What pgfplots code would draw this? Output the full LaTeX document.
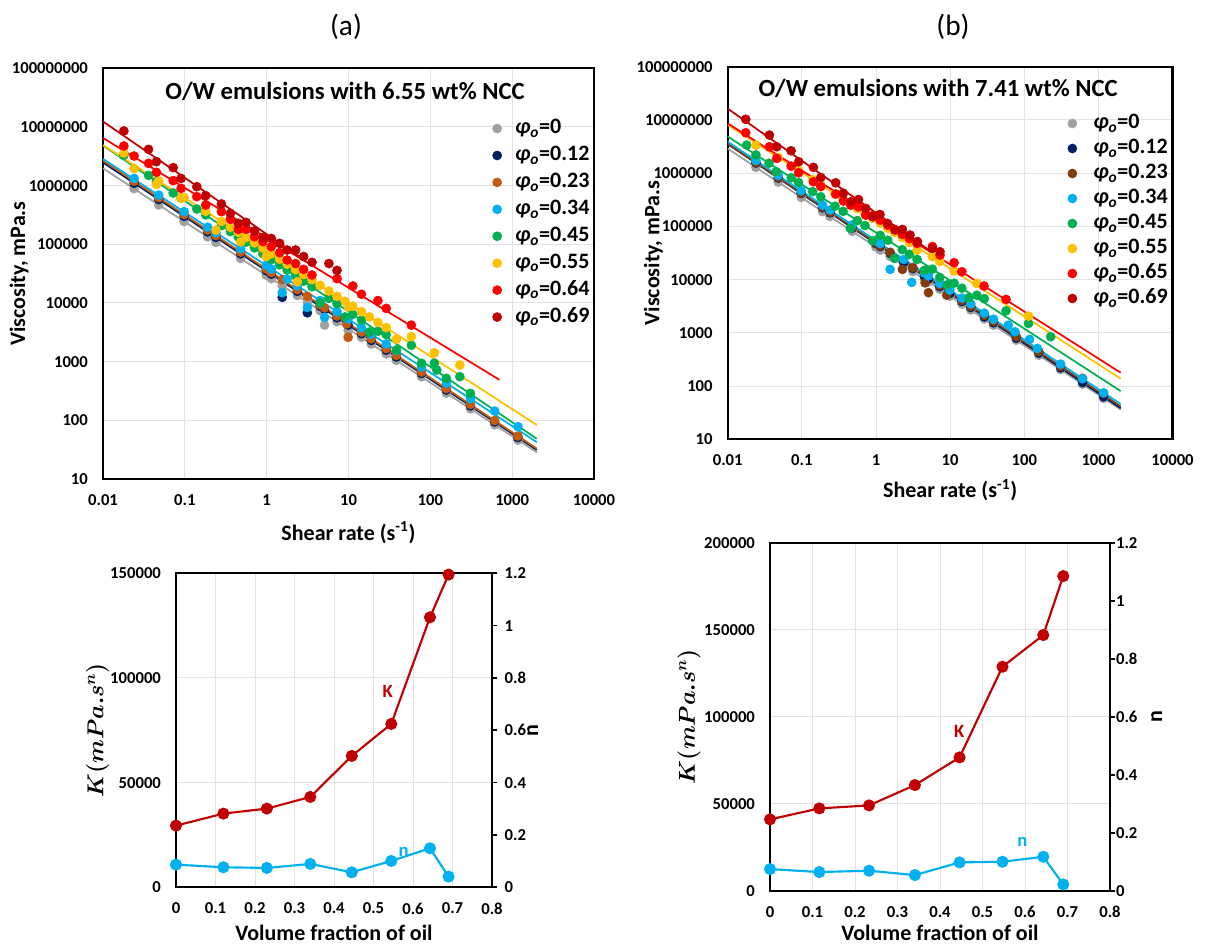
\documentclass[border=0pt]{standalone}
\usepackage{fontspec}
\setmainfont{Carlito}
\usepackage{bm}
\usepackage{pgfplots}
\pgfplotsset{compat=1.18}

\definecolor{cgrey}{HTML}{A0A0A0}
\definecolor{cnavy}{HTML}{002060}
\definecolor{corange}{HTML}{C55A11}
\definecolor{cbrown}{HTML}{843C0C}
\definecolor{cblue}{HTML}{00B0F0}
\definecolor{cgreen}{HTML}{00B050}
\definecolor{cyellow}{HTML}{FFC000}
\definecolor{cred}{HTML}{FF0000}
\definecolor{cdred}{HTML}{C00000}
\definecolor{cgrid}{HTML}{E2E2E2}

\newcommand{\tickfont}{\fontsize{12.5}{14}\selectfont\bfseries}
\newcommand{\labfont}{\fontsize{16.5}{19}\selectfont\bfseries}
\newcommand{\phio}{{\itshape φ\textsubscript{o}}}

\begin{document}
\begin{tikzpicture}
\path[use as bounding box] (0,0) rectangle (903.75pt,710.25pt);
\node[font=\fontsize{22}{26}\selectfont] at (259.5pt,690pt) {(a)};
\node[font=\fontsize{22}{26}\selectfont] at (714.75pt,690pt) {(b)};

% ---------------- (a) top ----------------
\begin{axis}[at={(77.25pt,659pt)}, anchor=north west,
  scale only axis, width=368.25pt, height=308pt,
  xmode=log, ymode=log,
  xmin=0.01, xmax=10000, ymin=10, ymax=1e8,
  xtick={0.01,0.1,1,10,100,1000,10000},
  xticklabels={0.01,0.1,1,10,100,1000,10000},
  ytick={10,100,1000,10000,100000,1000000,10000000,100000000},
  yticklabels={10,100,1000,10000,100000,1000000,10000000,100000000},
  minor tick style={draw=none},
  grid=major, major grid style={draw=cgrid, line width=0.75pt},
  axis line style={line width=1.6pt, black},
  tick style={draw=none}, major tick length=0pt,
  ticklabel style={font=\tickfont},
  xticklabel style={yshift=-8pt},
  yticklabel style={xshift=-7.8pt},
  xlabel={Shear rate (s\textsuperscript{-1})}, ylabel={Viscosity, mPa.s},
  xlabel style={at={(axis description cs:0.5,-0.131)}, anchor=center, font=\labfont},
  ylabel style={at={(axis description cs:-0.171,0.5)}, anchor=center, font=\labfont},
  legend cell align=left,
  legend style={at={(axis description cs:0.793,0.880)}, anchor=north west,
    draw=none, fill=none, inner sep=0pt, row sep=4.2pt, column sep=10pt,
    font=\fontsize{16.5}{19}\selectfont\bfseries,
    nodes={inner sep=0pt, text height=12pt, text depth=4pt}}]
\addplot[only marks, mark=*, mark size=3.4pt, color=cgrey] coordinates {(0.024,8.9e5)(0.048,4.7e5)(0.098,2.45e5)(0.19,1.34e5)(0.24,1.08e5)(0.48,5.75e4)(0.99,2.97e4)(1.14,2.6e4)(1.55,1.98e4)(2.37,1.34e4)(3.14,1.04e4)(4.5,7.4e3)(5.1,4.2e3)(7.24,4.8e3)(9.9,3.4e3)(14.4,2.6e3)(19,2.0e3)(28.9,1.36e3)(38.5,1.05e3)(78,552)(157,291)(309,157)(611,84)(1175,46)};
\addlegendentry{\phio=0}
\addplot[only marks, mark=*, mark size=3.4pt, color=cnavy] coordinates {(0.024,1.1e6)(0.048,5.8e5)(0.098,3.0e5)(0.19,1.63e5)(0.24,1.31e5)(0.48,6.9e4)(0.99,3.55e4)(1.14,3.1e4)(1.55,1.25e4)(2.37,1.58e4)(3.14,6.8e3)(4.5,8.8e3)(5.1,7.8e3)(7.24,5.6e3)(9.9,4.2e3)(14.4,3.0e3)(19,2.3e3)(28.9,1.57e3)(38.5,1.2e3)(78,628)(157,329)(309,176)(611,94)(1175,51)};
\addlegendentry{\phio=0.12}
\addplot[only marks, mark=*, mark size=3.4pt, color=corange] coordinates {(0.024,1.19e6)(0.048,6.25e5)(0.098,3.23e5)(0.19,1.75e5)(0.24,1.41e5)(0.48,7.4e4)(0.99,3.8e4)(1.14,3.3e4)(1.55,2.5e4)(2.37,1.69e4)(3.14,1.3e4)(4.5,9.3e3)(5.1,8.3e3)(7.24,6.0e3)(9.5,4.4e3)(9.9,2.6e3)(14.4,3.2e3)(19,2.46e3)(28.9,1.67e3)(38.5,1.28e3)(78,665)(157,348)(309,186)(611,99)(1175,54)};
\addlegendentry{\phio=0.23}
\addplot[only marks, mark=*, mark size=3.4pt, color=cblue] coordinates {(0.024,1.33e6)(0.048,6.9e5)(0.098,3.6e5)(0.19,1.96e5)(0.24,1.58e5)(0.48,8.4e4)(0.99,4.4e4)(1.14,3.8e4)(1.55,1.5e4)(1.78,2.55e4)(2.37,1.96e4)(3.14,8.4e3)(4.5,1.1e4)(5.1,5.7e3)(7.24,7.1e3)(9.9,5.35e3)(14.4,3.8e3)(19,2.95e3)(28.9,2.0e3)(38.5,1.55e3)(78,815)(157,430)(309,233)(611,144)(1175,78)};
\addlegendentry{\phio=0.34}
\addplot[only marks, mark=*, mark size=3.4pt, color=cgreen] coordinates {(0.018,3.3e6)(0.036,1.5e6)(0.045,1.17e6)(0.072,7.5e5)(0.09,6.1e5)(0.14,4.0e5)(0.18,3.17e5)(0.28,2.08e5)(0.36,1.65e5)(0.45,1.33e5)(0.56,1.09e5)(0.71,8.7e4)(0.9,6.9e4)(1.14,5.5e4)(1.44,4.46e4)(1.78,3.65e4)(2.26,2.91e4)(2.83,2.36e4)(3.58,1.89e4)(4.5,1.0e4)(5.76,1.2e4)(7.24,9.7e3)(9.1,5.8e3)(11.3,6.4e3)(14.4,5.1e3)(18,3.2e3)(22.9,3.3e3)(28.9,2.9e3)(38.5,1.58e3)(58.6,1.9e3)(78,940)(112,940)(120,720)(157,520)(229,555)(309,288)};
\addlegendentry{\phio=0.45}
\addplot[only marks, mark=*, mark size=3.4pt, color=cyellow] coordinates {(0.018,3.6e6)(0.024,1.95e6)(0.045,1.05e6)(0.048,1.2e6)(0.09,6.1e5)(0.098,6.3e5)(0.18,3.66e5)(0.24,1.75e5)(0.28,2.45e5)(0.36,1.96e5)(0.45,1.6e5)(0.48,1.1e5)(0.56,1.31e5)(0.71,1.06e5)(0.9,8.6e4)(0.99,6.2e4)(1.14,6.9e4)(1.44,5.6e4)(1.78,4.6e4)(2.26,3.7e4)(2.37,2.3e4)(2.83,3.05e4)(3.58,2.5e4)(4.5,2.0e4)(5.76,1.6e4)(7.24,1.3e4)(9.1,1.07e4)(9.9,8.6e3)(11.3,8.8e3)(14.4,7.1e3)(18,5.8e3)(22.9,4.66e3)(28.9,3.8e3)(38.5,2.4e3)(58.6,2.67e3)(112,1.42e3)(229,877)};
\addlegendentry{\phio=0.55}
\addplot[only marks, mark=*, mark size=3.4pt, color=cred] coordinates {(0.018,4.74e6)(0.024,3.2e6)(0.036,2.4e6)(0.045,1.69e6)(0.072,1.22e6)(0.09,9.0e5)(0.14,6.5e5)(0.18,4.68e5)(0.28,3.6e5)(0.36,2.67e5)(0.45,1.8e5)(0.56,1.8e5)(0.71,1.35e5)(0.9,1.11e5)(1.14,9.1e4)(1.44,7.2e4)(1.78,5.4e4)(2.26,4.7e4)(2.83,3.75e4)(3.58,3.0e4)(7.24,2.6e4)(11.3,1.95e4)(14.4,1.41e4)(22.9,1.10e4)(28.9,8.1e3)(58.6,4.2e3)};
\addlegendentry{\phio=0.64}
\addplot[only marks, mark=*, mark size=3.4pt, color=cdred] coordinates {(0.018,8.55e6)(0.036,4.16e6)(0.045,2.57e6)(0.072,2.03e6)(0.09,1.33e6)(0.14,9.6e5)(0.18,6.76e5)(0.28,4.88e5)(0.36,3.37e5)(0.45,2.28e5)(0.56,2.37e5)(0.71,1.69e5)(0.9,1.30e5)(1.14,1.26e5)(1.44,1.04e5)(1.78,8.0e4)(2.26,8.0e4)(2.83,6.2e4)(3.58,4.93e4)(5.76,4.7e4)(7.24,3.6e4)};
\addlegendentry{\phio=0.69}
\addplot[color=cgrey, line width=1.3pt, forget plot] coordinates {(0.01,1.97e6)(2000,28.5)};
\addplot[color=cnavy, line width=1.3pt, forget plot] coordinates {(0.01,2.48e6)(2000,31.3)};
\addplot[color=corange, line width=1.3pt, forget plot] coordinates {(0.01,2.67e6)(2000,33)};
\addplot[color=cblue, line width=1.3pt, forget plot] coordinates {(0.01,2.86e6)(2000,42.5)};
\addplot[color=cgreen, line width=1.3pt, forget plot] coordinates {(0.01,4.83e6)(2000,48.4)};
\addplot[color=cyellow, line width=1.3pt, forget plot] coordinates {(0.01,4.92e6)(2000,83.4)};
\addplot[color=cred, line width=1.3pt, forget plot] coordinates {(0.01,6.5e6)(700,490)};
\addplot[color=cdred, line width=1.3pt, forget plot] coordinates {(0.01,1.24e7)(3,5.2e4)};
\node[font=\fontsize{18.5}{22}\selectfont\bfseries] at (axis description cs:0.493,0.945) {O/W emulsions with 6.55 wt\% NCC};
\end{axis}

% ---------------- (b) top ----------------
\begin{axis}[at={(545.8pt,660.2pt)}, anchor=north west,
  scale only axis, width=333.6pt, height=279.5pt,
  xmode=log, ymode=log,
  xmin=0.01, xmax=10000, ymin=10, ymax=1e8,
  xtick={0.01,0.1,1,10,100,1000,10000},
  xticklabels={0.01,0.1,1,10,100,1000,10000},
  ytick={10,100,1000,10000,100000,1000000,10000000,100000000},
  yticklabels={10,100,1000,10000,100000,1000000,10000000,100000000},
  minor tick style={draw=none},
  grid=major, major grid style={draw=cgrid, line width=0.75pt},
  axis line style={line width=1.6pt, black},
  tick style={draw=none}, major tick length=0pt,
  ticklabel style={font=\tickfont},
  xticklabel style={yshift=-8pt},
  yticklabel style={xshift=-7.8pt},
  xlabel={Shear rate (s\textsuperscript{-1})}, ylabel={Viscosity, mPa.s},
  xlabel style={at={(axis description cs:0.5,-0.137)}, anchor=center, font=\labfont},
  ylabel style={at={(axis description cs:-0.167,0.5)}, anchor=center, font=\labfont},
  legend cell align=left,
  legend style={at={(axis description cs:0.764,0.877)}, anchor=north west,
    draw=none, fill=none, inner sep=0pt, row sep=2.75pt, column sep=12.3pt,
    font=\fontsize{16.5}{19}\selectfont\bfseries,
    nodes={inner sep=0pt, text height=12pt, text depth=4pt}}]
\addplot[only marks, mark=*, mark size=3.4pt, color=cgrey] coordinates {(0.024,1.29e6)(0.048,6.8e5)(0.098,3.52e5)(0.19,1.9e5)(0.24,1.54e5)(0.48,8.1e4)(0.99,4.14e4)(1.14,3.6e4)(1.55,2.74e4)(2.37,1.85e4)(3.14,1.42e4)(4.5,1.02e4)(5.1,9.1e3)(7.24,6.6e3)(9.9,4.9e3)(14.4,3.5e3)(19,2.7e3)(28.9,1.83e3)(38.5,1.4e3)(78,730)(157,382)(309,204)(611,109)(1175,59)};
\addlegendentry{\phio=0}
\addplot[only marks, mark=*, mark size=3.4pt, color=cnavy] coordinates {(0.024,1.55e6)(0.048,8.1e5)(0.098,4.16e5)(0.19,2.24e5)(0.24,1.8e5)(0.48,9.4e4)(0.99,4.78e4)(1.14,4.2e4)(1.55,3.14e4)(2.37,2.11e4)(3.14,1.62e4)(4.5,1.16e4)(5.1,1.03e4)(7.24,7.4e3)(9.9,5.5e3)(14.4,3.9e3)(19,3.0e3)(28.9,2.0e3)(38.5,1.55e3)(78,800)(157,417)(309,221)(611,117)(1175,63)};
\addlegendentry{\phio=0.12}
\addplot[only marks, mark=*, mark size=3.4pt, color=cbrown] coordinates {(0.024,1.58e6)(0.048,8.3e5)(0.098,4.27e5)(0.19,2.3e5)(0.24,1.85e5)(0.48,9.7e4)(0.99,4.95e4)(1.14,4.35e4)(1.55,3.27e4)(2.27,1.56e4)(3.14,1.69e4)(4.6,8.7e3)(5.1,5.7e3)(7.24,7.8e3)(9.0,5.1e3)(14.4,4.1e3)(19,3.16e3)(28.9,2.14e3)(38.5,1.64e3)(78,851)(157,444)(309,236)(611,140)(1175,73)};
\addlegendentry{\phio=0.23}
\addplot[only marks, mark=*, mark size=3.4pt, color=cblue] coordinates {(0.024,1.73e6)(0.048,9.1e5)(0.098,4.67e5)(0.19,2.52e5)(0.24,2.03e5)(0.48,1.07e5)(0.99,5.4e4)(1.14,4.8e4)(1.55,1.56e4)(2.37,2.4e4)(3.03,8.9e3)(4.5,1.33e4)(5.1,1.18e4)(7.24,8.5e3)(9.9,6.4e3)(14.4,4.5e3)(19,3.5e3)(28.9,2.35e3)(38.5,1.81e3)(61,1.4e3)(75,1.05e3)(118,755)(150,512)(309,260)(611,138)(1175,75)};
\addlegendentry{\phio=0.34}
\addplot[only marks, mark=*, mark size=3.4pt, color=cgreen] coordinates {(0.018,3.37e6)(0.024,2.2e6)(0.036,1.54e6)(0.045,1.07e6)(0.072,8.2e5)(0.09,6.7e5)(0.14,4.5e5)(0.18,3.6e5)(0.28,2.4e5)(0.36,1.92e5)(0.45,9.2e4)(0.56,1.29e5)(0.71,1.04e5)(0.9,5.4e4)(1.14,6.8e4)(1.44,5.5e4)(1.78,2.5e4)(2.26,3.67e4)(2.83,3.0e4)(3.58,2.4e4)(4.5,1.5e4)(5.76,1.58e4)(7.24,1.1e4)(9.1,8.0e3)(11.3,8.6e3)(14.4,6.9e3)(18,4.6e3)(22.9,5.1e3)(28.9,4.4e3)(56.8,2.6e3)(114,1.5e3)(227,848)};
\addlegendentry{\phio=0.45}
\addplot[only marks, mark=*, mark size=3.4pt, color=cyellow] coordinates {(0.024,3.37e6)(0.048,1.98e6)(0.09,1.12e6)(0.14,7.6e5)(0.18,6.0e5)(0.28,4.06e5)(0.36,3.24e5)(0.45,2.64e5)(0.56,2.17e5)(0.71,1.75e5)(0.9,1.42e5)(1.14,1.15e5)(1.44,9.3e4)(1.78,7.7e4)(2.26,6.2e4)(2.83,5.0e4)(3.58,3.6e4)(5.76,2.7e4)(7.24,2.2e4)(11.3,1.45e4)(22.9,8.5e3)(114,2.07e3)};
\addlegendentry{\phio=0.55}
\addplot[only marks, mark=*, mark size=3.4pt, color=cred] coordinates {(0.0175,5.75e6)(0.0365,3.14e6)(0.0458,1.9e6)(0.0715,1.36e6)(0.0907,1.02e6)(0.143,6.9e5)(0.18,5.6e5)(0.286,4.06e5)(0.363,3.0e5)(0.456,2.5e5)(0.58,2.34e5)(0.727,1.63e5)(0.9,1.6e5)(1.14,1.31e5)(1.44,1.06e5)(1.78,8.8e4)(2.26,7.1e4)(2.83,5.9e4)(3.58,4.8e4)(5.77,4.2e4)(7.3,2.9e4)(11.3,2.08e4)(14.4,1.41e4)(28.7,7.6e3)(56.8,4.26e3)};
\addlegendentry{\phio=0.65}
\addplot[only marks, mark=*, mark size=3.4pt, color=cdred] coordinates {(0.0175,1.03e7)(0.0365,5.2e6)(0.0458,3.14e6)(0.0715,2.64e6)(0.0907,1.64e6)(0.143,1.29e6)(0.18,8.3e5)(0.286,6.6e5)(0.363,4.2e5)(0.456,2.9e5)(0.58,3.2e5)(0.727,2.18e5)(0.9,1.52e5)(1.13,1.68e5)(1.43,1.14e5)(1.81,8.6e4)(2.27,8.8e4)(2.88,6.9e4)(3.62,5.2e4)(5.77,3.9e4)(7.3,3.35e4)};
\addlegendentry{\phio=0.69}
\addplot[color=cgrey, line width=1.3pt, forget plot] coordinates {(0.01,2.9e6)(2000,36.3)};
\addplot[color=cnavy, line width=1.3pt, forget plot] coordinates {(0.01,3.52e6)(2000,38.5)};
\addplot[color=cbrown, line width=1.3pt, forget plot] coordinates {(0.01,3.57e6)(2000,41.5)};
\addplot[color=cblue, line width=1.3pt, forget plot] coordinates {(0.01,3.9e6)(2000,46)};
\addplot[color=cgreen, line width=1.3pt, forget plot] coordinates {(0.01,4.88e6)(2000,80.7)};
\addplot[color=cyellow, line width=1.3pt, forget plot] coordinates {(0.01,8.1e6)(2000,138)};
\addplot[color=cred, line width=1.3pt, forget plot] coordinates {(0.01,8.6e6)(2000,179)};
\addplot[color=cdred, line width=1.3pt, forget plot] coordinates {(0.01,1.63e7)(7.24,2.6e4)};
\node[font=\fontsize{18.5}{22}\selectfont\bfseries] at (axis description cs:0.473,0.942) {O/W emulsions with 7.41 wt\% NCC};
\end{axis}

% ---------------- (a) bottom ----------------
\begin{axis}[at={(132pt,280.3pt)}, anchor=north west,
  scale only axis, width=237pt, height=235.5pt,
  xmin=0, xmax=0.8, ymin=0, ymax=150000,
  xtick={0,0.1,0.2,0.3,0.4,0.5,0.6,0.7,0.8},
  xticklabels={0,0.1,0.2,0.3,0.4,0.5,0.6,0.7,0.8},
  ytick={0,50000,100000,150000}, yticklabels={0,50000,100000,150000},
  scaled ticks=false,
  grid=major, major grid style={draw=cgrid, line width=0.75pt},
  axis line style={line width=1.6pt, black},
  tick style={draw=none}, major tick length=0pt,
  ticklabel style={font=\tickfont},
  xticklabel style={yshift=-8pt},
  yticklabel style={xshift=-7.8pt},
  xlabel={Volume fraction of oil}, ylabel={$\bm{K(mPa.s^{n})}$},
  xlabel style={at={(axis description cs:0.5,-0.146)}, anchor=center, font=\labfont},
  ylabel style={at={(axis description cs:-0.248,0.5)}, anchor=center, font=\fontsize{16.5}{19}\selectfont}]
\addplot[color=cdred, line width=1.6pt, mark=*, mark size=3.7pt] coordinates {(0,29460)(0.12,35190)(0.23,37580)(0.34,43150)(0.445,62740)(0.545,78030)(0.643,128980)(0.69,149360)};
\node[text=cdred, font=\fontsize{14}{16}\selectfont\bfseries] at (axis cs:0.536,93440) {K};
\node[text=cblue, font=\fontsize{14}{16}\selectfont\bfseries] at (axis cs:0.576,17000) {n};
\end{axis}
\begin{axis}[at={(132pt,280.3pt)}, anchor=north west,
  scale only axis, width=237pt, height=235.5pt,
  axis y line*=right, axis x line=none,
  xmin=0, xmax=0.8, ymin=0, ymax=1.2,
  ytick={0,0.2,0.4,0.6,0.8,1,1.2},
  yticklabels={0,0.2,0.4,0.6,0.8,1,1.2},
  axis line style={line width=1.6pt, black},
  tick align=outside, major tick length=4pt,
  ytick style={draw=black, line width=1.2pt},
  ticklabel style={font=\tickfont},
  yticklabel style={xshift=2pt},
  ylabel={n},
  ylabel style={at={(axis description cs:1.129,0.5)}, anchor=center, rotate=0, font=\labfont}]
\addplot[color=cblue, line width=1.6pt, mark=*, mark size=3.7pt] coordinates {(0,0.0866)(0.12,0.0764)(0.23,0.0739)(0.34,0.0892)(0.445,0.0573)(0.545,0.1006)(0.643,0.149)(0.69,0.0408)};
\end{axis}

% ---------------- (b) bottom ----------------
\begin{axis}[at={(577.5pt,303.2pt)}, anchor=north west,
  scale only axis, width=255pt, height=261pt,
  xmin=0, xmax=0.8, ymin=0, ymax=200000,
  xtick={0,0.1,0.2,0.3,0.4,0.5,0.6,0.7,0.8},
  xticklabels={0,0.1,0.2,0.3,0.4,0.5,0.6,0.7,0.8},
  ytick={0,50000,100000,150000,200000}, yticklabels={0,50000,100000,150000,200000},
  scaled ticks=false,
  grid=major, major grid style={draw=cgrid, line width=0.75pt},
  axis line style={line width=1.6pt, black},
  tick style={draw=none}, major tick length=0pt,
  ticklabel style={font=\tickfont},
  xticklabel style={yshift=-8pt},
  yticklabel style={xshift=-7.8pt},
  xlabel={Volume fraction of oil}, ylabel={$\bm{K(mPa.s^{n})}$},
  xlabel style={at={(axis description cs:0.5,-0.122)}, anchor=center, font=\labfont},
  ylabel style={at={(axis description cs:-0.238,0.5)}, anchor=center, font=\fontsize{16.5}{19}\selectfont}]
\addplot[color=cdred, line width=1.6pt, mark=*, mark size=3.7pt] coordinates {(0,41000)(0.116,47320)(0.233,49040)(0.341,60730)(0.446,76630)(0.547,128740)(0.643,146930)(0.69,180840)};
\node[text=cdred, font=\fontsize{14}{16}\selectfont\bfseries] at (axis cs:0.445,91380) {K};
\node[text=cblue, font=\fontsize{14}{16}\selectfont\bfseries] at (axis cs:0.594,28160) {n};
\end{axis}
\begin{axis}[at={(577.5pt,303.2pt)}, anchor=north west,
  scale only axis, width=255pt, height=261pt,
  axis y line*=right, axis x line=none,
  xmin=0, xmax=0.8, ymin=0, ymax=1.2,
  ytick={0,0.2,0.4,0.6,0.8,1,1.2},
  yticklabels={0,0.2,0.4,0.6,0.8,1,1.2},
  axis line style={line width=1.6pt, black},
  tick align=outside, major tick length=4pt,
  ytick style={draw=black, line width=1.2pt},
  ticklabel style={font=\tickfont},
  yticklabel style={xshift=-3pt},
  ylabel={n},
  ylabel style={at={(axis description cs:1.137,0.5)}, anchor=center, rotate=0, font=\labfont}]
\addplot[color=cblue, line width=1.6pt, mark=*, mark size=3.7pt] coordinates {(0,0.0747)(0.116,0.0644)(0.233,0.069)(0.341,0.054)(0.446,0.0977)(0.547,0.1)(0.643,0.117)(0.69,0.0218)};
\end{axis}
\end{tikzpicture}
\end{document}
